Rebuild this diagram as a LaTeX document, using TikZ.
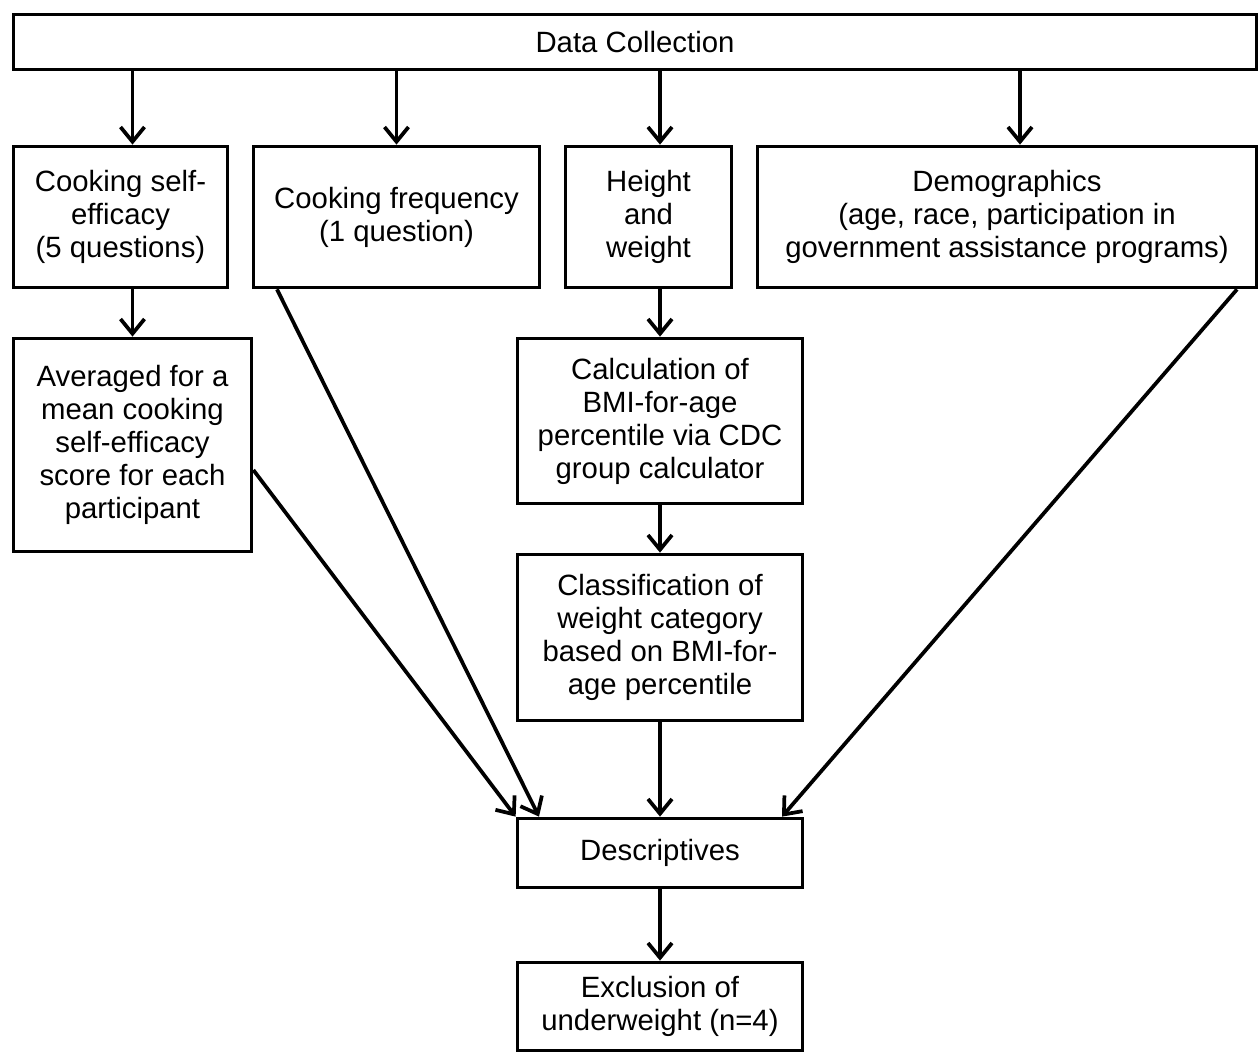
\documentclass[tikz,border=0pt]{standalone}
\usepackage{fontspec}
\setmainfont{Liberation Sans}
\usetikzlibrary{arrows.meta,calc}
\begin{document}
\begin{tikzpicture}[x=0.75pt,y=-0.75pt,
  box/.style={draw=black,line width=2.8pt,inner sep=2pt,align=center,
    font=\fontsize{22}{24.75}\selectfont},
  arr/.style={line width=2.8pt,-{Straight Barb[length=11pt,width=18pt,line width=2.8pt]}}]
\useasboundingbox (0,0) rectangle (1259,1055);
\fill[white] (0,0) rectangle (1259,1055);
\node[box,minimum width=932.25pt,minimum height=41.25pt] (dc) at (635,42) {Data Collection};
\node[box,minimum width=160.5pt,minimum height=105.75pt] (se) at (120.5,217) {Cooking self-\\efficacy\\(5 questions)};
\node[box,minimum width=214.5pt,minimum height=105.75pt] (freq) at (396.5,217) {Cooking frequency\\(1 question)};
\node[box,minimum width=124.5pt,minimum height=105.75pt] (hw) at (648.5,217) {Height\\and\\weight};
\node[box,minimum width=374.25pt,minimum height=105.75pt] (dem) at (1007,217) {Demographics\\(age, race, participation in\\government assistance programs)};
\node[box,minimum width=178.5pt,minimum height=159.75pt] (avg) at (132.5,445) {Averaged for a\\mean cooking\\self-efficacy\\score for each\\participant};
\node[box,minimum width=213.75pt,minimum height=123.75pt] (calc) at (660,421) {Calculation of\\BMI-for-age\\percentile via CDC\\group calculator};
\node[box,minimum width=213.75pt,minimum height=124.5pt] (cls) at (660,637.5) {Classification of\\weight category\\based on BMI-for-\\age percentile};
\node[box,minimum width=213.75pt,minimum height=51.75pt] (desc) at (660,853) {Descriptives};
\node[box,minimum width=213.75pt,minimum height=66pt] (excl) at (660,1006.5) {Exclusion of\\underweight (n=4)};
\coordinate (demx) at (1020,0);
\coordinate (fx) at (277,0);
\coordinate (dx1) at (539,0);
\coordinate (dmx) at (1237,0);
\coordinate (dx2) at (782,0);
\draw[arr] (dc.south -| avg.north) -- (se.north -| avg.north);
\draw[arr] (dc.south -| freq.north) -- (freq.north);
\draw[arr] (dc.south -| calc.north) -- (hw.north -| calc.north);
\draw[arr] (dc.south -| demx) -- (dem.north -| demx);
\draw[arr] (se.south -| avg.north) -- (avg.north);
\draw[arr] (hw.south -| calc.north) -- (calc.north);
\draw[arr] (calc.south) -- (cls.north);
\draw[arr] ($(avg.east)+(0,25)$) -- (desc.north west);
\draw[arr] (freq.south -| fx) -- (desc.north -| dx1);
\draw[arr] (dem.south -| dmx) -- (desc.north -| dx2);
\draw[arr] (cls.south) -- (desc.north);
\draw[arr] (desc.south) -- (excl.north);
\end{tikzpicture}
\end{document}
